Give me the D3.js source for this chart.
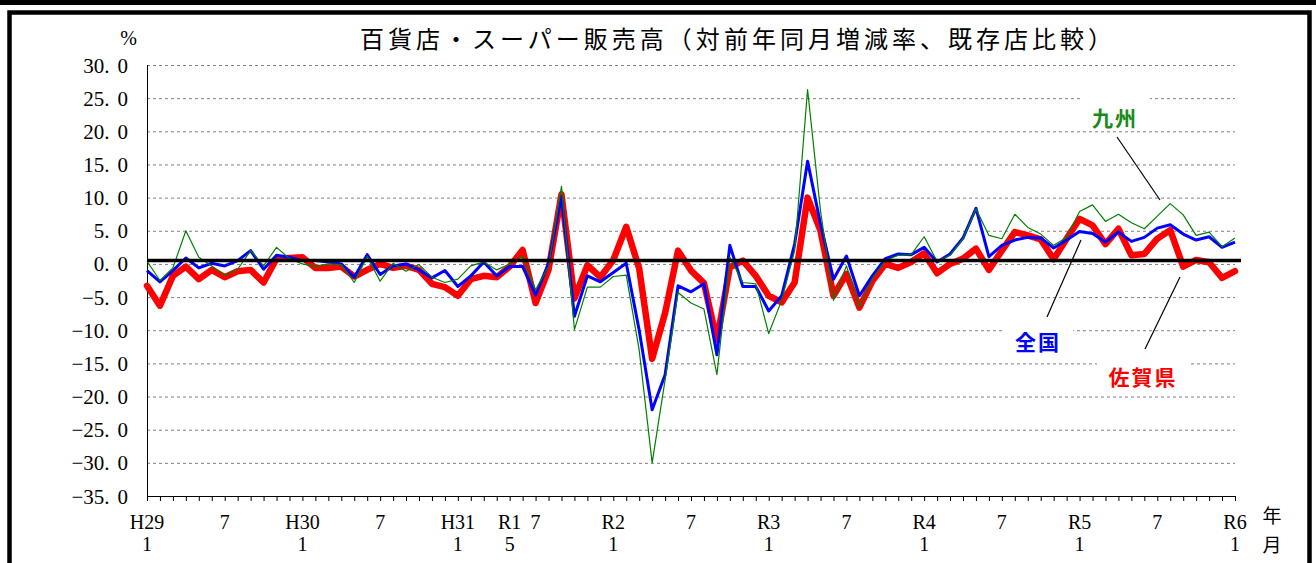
<!DOCTYPE html>
<html><head><meta charset="utf-8">
<script src="https://cdn.jsdelivr.net/npm/d3@7"></script>
<style>body{margin:0;background:#fff} svg{display:block}</style>
</head><body>
<svg id="c" width="1316" height="563"></svg>
<script>
const title = "百貨店・スーパー販売高（対前年同月増減率、既存店比較）";
const unitLabel = "%";
const monthCount = 85; // H29.1 … R6.1
const xTickLabels = [
  [0,"H29","1"],[6,"7",""],[12,"H30","1"],[18,"7",""],[24,"H31","1"],[28,"R1","5"],[30,"7",""],
  [36,"R2","1"],[42,"7",""],[48,"R3","1"],[54,"7",""],[60,"R4","1"],[66,"7",""],
  [72,"R5","1"],[78,"7",""],[84,"R6","1"]
];
const yTicks = [30,25,20,15,10,5,0,-5,-10,-15,-20,-25,-30,-35];
const seriesNames = ["佐賀県","全国","九州"];
const saga = [
  -3.3,-6.3,-1.8,-0.4,-2.3,-0.9,-2.0,-1.1,-0.9,-2.8,0.8,0.9,1.0,-0.6,-0.6,
  -0.4,-1.9,-0.9,0.0,-0.6,-0.3,-0.9,-3.0,-3.5,-4.8,-2.3,-1.8,-2.0,-0.4,2.1,
  -5.9,-0.9,10.5,-5.2,-0.2,-2.0,0.6,5.6,-0.7,-14.3,-7.4,2.0,-1.0,-2.9,-11.5,
  -0.5,0.5,-1.8,-4.8,-5.8,-2.8,10.0,5.0,-4.8,-1.5,-6.6,-2.6,0.0,-0.6,0.3,
  1.6,-1.4,0.0,0.8,2.3,-0.9,2.0,4.8,4.3,3.7,0.7,3.8,6.8,5.8,3.0,
  5.3,1.3,1.5,3.8,5.1,-0.4,0.6,0.25,-2.1,-1.1
];
const zenkoku = [
  -1.0,-2.7,-1.0,0.9,-0.6,0.1,-0.3,0.5,2.0,-0.8,1.3,1.0,0.5,0.5,0.3,
  0.0,-2.0,1.4,-1.6,-0.3,0.0,-0.9,-2.1,-1.0,-3.4,-1.8,0.3,-1.8,-0.4,-0.4,
  -4.7,0.1,10.2,-7.9,-1.8,-2.7,-1.3,0.1,-10.0,-22.0,-16.7,-3.3,-4.2,-3.0,-13.7,
  2.8,-3.4,-3.4,-7.1,-4.8,3.0,15.5,6.0,-2.3,1.2,-4.8,-1.8,0.8,1.5,1.4,
  2.5,0.3,1.5,3.9,8.4,1.1,2.8,3.6,4.0,3.9,2.4,3.6,4.9,4.6,3.3,
  4.8,3.4,4.0,5.4,5.9,4.5,3.6,4.1,2.5,3.3
];
const kyushu = [
  0.4,-2.5,-0.6,5.0,1.0,-0.3,-1.7,-0.8,2.0,-0.3,2.5,0.8,0.0,-0.4,0.0,
  -0.1,-2.8,1.1,-2.6,0.1,-1.1,-0.1,-2.0,-2.8,-2.3,-0.3,0.3,-0.9,0.0,1.1,
  -3.9,-0.4,11.7,-9.9,-3.5,-3.5,-1.9,-1.7,-13.0,-30.0,-17.5,-4.3,-5.9,-6.8,-16.7,
  1.0,-2.8,-3.0,-10.5,-5.5,2.0,26.3,8.0,-5.5,-0.3,-6.5,-2.2,0.5,1.3,1.4,
  4.1,0.4,1.3,3.8,8.3,4.3,3.8,7.5,5.5,4.5,2.8,4.0,7.9,8.9,6.4,
  7.5,6.2,5.3,7.2,9.1,7.4,4.3,4.8,2.6,3.9
];
const refLine = 0.5;

const svg = d3.select("#c");
const x = d3.scaleLinear().domain([0, monthCount - 1]).range([147, 1235]);
const y = d3.scaleLinear().domain([-35, 30]).range([496, 65]);
const serif = "'Liberation Serif','DejaVu Serif',serif";
const cjk = "'Noto Sans CJK JP','Noto Sans CJK SC',sans-serif";

// frame
svg.append("rect").attr("x",0).attr("y",0).attr("width",1316).attr("height",5).attr("fill","#000");
svg.append("rect").attr("x",9.5).attr("y",12.5).attr("width",1300).attr("height",620)
  .attr("fill","none").attr("stroke","#000").attr("stroke-width",4.5);

// title
svg.append("text").attr("x",360).attr("y",48).attr("font-family",cjk).attr("font-size",24)
  .attr("textLength",752).attr("lengthAdjust","spacing").attr("fill","#000").text(title);
svg.append("text").attr("x",137).attr("y",45).attr("text-anchor","end").attr("font-family",serif)
  .attr("font-size",20).text(unitLabel);

// gridlines
svg.append("g").selectAll("line").data(yTicks).join("line")
  .attr("x1",x(0)).attr("x2",x(monthCount-1))
  .attr("y1",d=>y(d)+0.5).attr("y2",d=>y(d)+0.5)
  .attr("stroke","#808080").attr("stroke-width",1).attr("stroke-dasharray","3,3");

// y tick labels
const yl = svg.append("g").selectAll("text").data(yTicks).join("text")
  .attr("x",128).attr("y",d=>y(d)+7.5).attr("text-anchor","end")
  .attr("font-family",serif).attr("font-size",21).attr("fill","#000");
yl.each(function(d){
  const s = d3.format(".1f")(Math.abs(d)).split(".");
  const t = d3.select(this);
  t.append("tspan").text((d<0?"−":"") + s[0] + ".");
  t.append("tspan").attr("dx",8).text(s[1]);
});

// axes
svg.append("g").attr("transform",`translate(0,496)`)
  .call(d3.axisBottom(x).tickValues(d3.range(monthCount)).tickSize(5).tickFormat("").tickSizeOuter(0))
  .call(g=>g.selectAll("line,path").attr("stroke","#000").attr("stroke-width",1));
svg.append("line").attr("x1",147.5).attr("x2",147.5).attr("y1",65).attr("y2",496).attr("stroke","#000");

// x labels
const xl = svg.append("g").attr("font-family",serif).attr("font-size",20).attr("text-anchor","middle");
xl.selectAll("text.a").data(xTickLabels).join("text").attr("class","a")
  .attr("x",d=>x(d[0])).attr("y",529).text(d=>d[1]);
xl.selectAll("text.b").data(xTickLabels.filter(d=>d[2])).join("text").attr("class","b")
  .attr("x",d=>x(d[0])).attr("y",551).text(d=>d[2]);
svg.append("text").attr("x",1272).attr("y",523).attr("text-anchor","middle").attr("font-family",cjk).attr("font-size",19).text("年");
svg.append("text").attr("x",1272).attr("y",552).attr("text-anchor","middle").attr("font-family",cjk).attr("font-size",19).text("月");

// label background boxes
const boxes = [[1080,94,70,36],[1005,325,68,32],[1097,355,93,38]];
svg.append("g").selectAll("rect").data(boxes).join("rect")
  .attr("x",d=>d[0]).attr("y",d=>d[1]).attr("width",d=>d[2]).attr("height",d=>d[3]).attr("fill","#fff");

// lines
const line = d3.line().x((d,i)=>x(i)).y(d=>y(d));
svg.append("path").datum(saga).attr("d",line).attr("fill","none").attr("stroke","#ff0000")
  .attr("stroke-width",6.5).attr("stroke-linejoin","round").attr("stroke-linecap","round");
svg.append("path").datum(zenkoku).attr("d",line).attr("fill","none").attr("stroke","#0000ff")
  .attr("stroke-width",3).attr("stroke-linejoin","round");
svg.append("path").datum(kyushu).attr("d",line).attr("fill","none").attr("stroke","#008000")
  .attr("stroke-width",1.2).attr("stroke-linejoin","round");

// reference line
svg.append("line").attr("x1",147).attr("x2",1241).attr("y1",y(refLine)).attr("y2",y(refLine))
  .attr("stroke","#000").attr("stroke-width",3.5);

// series labels and leaders
const labels = [
  {name:seriesNames[2], color:"#1a8a1a", tx:1115, ty:126, l:[1117,137,1160,200]},
  {name:seriesNames[1], color:"#0000ff", tx:1038, ty:350, l:[1047,317,1081,240]},
  {name:seriesNames[0], color:"#ff0000", tx:1143, ty:385, l:[1145,349,1180,277]}
];
svg.append("g").selectAll("line").data(labels).join("line")
  .attr("x1",d=>d.l[0]).attr("y1",d=>d.l[1]).attr("x2",d=>d.l[2]).attr("y2",d=>d.l[3])
  .attr("stroke","#000").attr("stroke-width",1.2);
svg.append("g").selectAll("text").data(labels).join("text")
  .attr("x",d=>d.tx).attr("y",d=>d.ty).attr("text-anchor","middle")
  .attr("font-family",cjk).attr("font-weight","bold").attr("font-size",21).attr("letter-spacing",2)
  .attr("fill",d=>d.color).text(d=>d.name);
</script>
</body></html>
